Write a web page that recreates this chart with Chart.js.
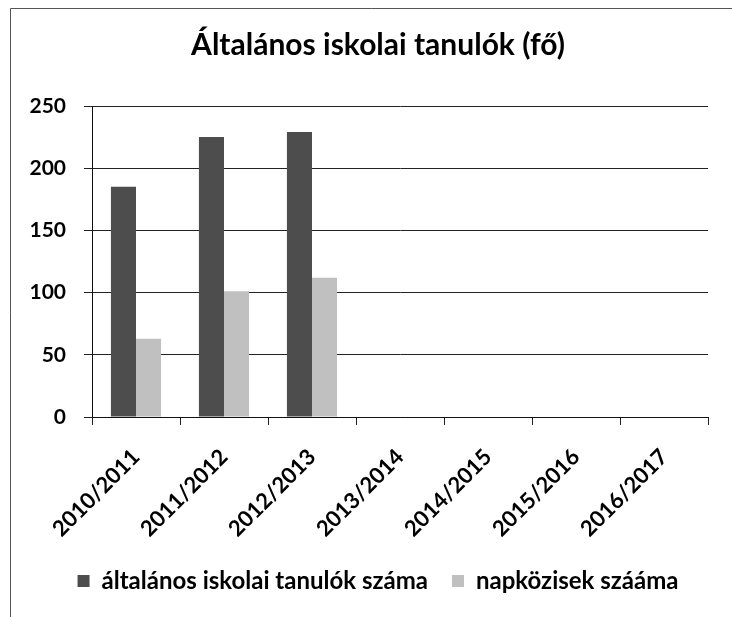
<!DOCTYPE html>
<html>
<head>
<meta charset="utf-8">
<script src="https://cdn.jsdelivr.net/npm/chart.js@4/dist/chart.umd.min.js"></script>
<style>
  html, body { margin: 0; padding: 0; background: #ffffff; }
  #wrap { position: relative; width: 732px; height: 617px; }
</style>
</head>
<body>
<div id="wrap"><canvas id="c" width="732" height="617"></canvas></div>
<script>
const chartTitle = 'Általános iskolai tanulók (fő)';
const categories = ['2010/2011', '2011/2012', '2012/2013', '2013/2014', '2014/2015', '2015/2016', '2016/2017'];
const seriesNames = ['általános iskolai tanulók száma', 'napközisek szááma'];
const pupils = [185, 225, 229, null, null, null, null];
const dayCare = [63, 101, 112, null, null, null, null];
const yTicks = [0, 50, 100, 150, 200, 250];

const FONT = 'Lato, "Open Sans", "DejaVu Sans", sans-serif';

const framePlugin = {
  id: 'frame',
  afterLayout(chart) {
    // let the y tick labels extend left of the axis box without being clipped
    const y = chart.scales.y;
    y.width = y.right;
    y.left = 0;
  },
  beforeDraw(chart) {
    const ctx = chart.ctx;
    ctx.save();
    ctx.strokeStyle = '#555';
    ctx.lineWidth = 1;
    ctx.beginPath();
    ctx.moveTo(10.5, 617);
    ctx.lineTo(10.5, 8.5);
    ctx.lineTo(732, 8.5);
    ctx.stroke();
    ctx.restore();
  }
};

new Chart(document.getElementById('c'), {
  type: 'bar',
  data: {
    labels: categories,
    datasets: [
      { label: seriesNames[0], data: pupils, backgroundColor: '#4d4d4d', borderWidth: 0,
        categoryPercentage: 0.57, barPercentage: 1.0 },
      { label: seriesNames[1], data: dayCare, backgroundColor: '#c0c0c0', borderWidth: 0,
        categoryPercentage: 0.57, barPercentage: 1.0 }
    ]
  },
  options: {
    responsive: false,
    animation: false,
    devicePixelRatio: 1,
    layout: { padding: { left: 48, right: 24, top: 0, bottom: 14 } },
    plugins: {
      title: {
        display: true,
        text: chartTitle,
        color: '#000',
        font: { family: FONT, size: 30, weight: 'bold' },
        padding: { top: 27, bottom: 43 }
      },
      legend: {
        position: 'bottom',
        labels: {
          color: '#000',
          font: { family: FONT, size: 24, weight: 'bold' },
          boxWidth: 12,
          boxHeight: 12,
          padding: 24
        }
      },
      tooltip: { enabled: false }
    },
    scales: {
      x: {
        grid: { display: true, offset: true, drawOnChartArea: false, drawTicks: true, tickLength: 8, color: '#222' },
        border: { display: true, color: '#111', width: 1 },
        ticks: {
          color: '#000',
          font: { family: FONT, size: 22, weight: 'bold' },
          minRotation: 45, maxRotation: 45, padding: 19, autoSkip: false
        },
        afterFit(scale) { scale.height = 128; }
      },
      y: {
        min: 0, max: 250,
        afterBuildTicks(scale) { scale.ticks = yTicks.map(v => ({ value: v })); },
        grid: { color: '#222', lineWidth: 1, drawTicks: true, tickLength: 8 },
        border: { display: true, color: '#111', width: 1 },
        ticks: {
          color: '#000',
          font: { family: FONT, size: 21, weight: 'bold' },
          padding: 18
        },
        afterFit(scale) { scale.width = 44; }
      }
    }
  },
  plugins: [framePlugin]
});
</script>
</body>
</html>
